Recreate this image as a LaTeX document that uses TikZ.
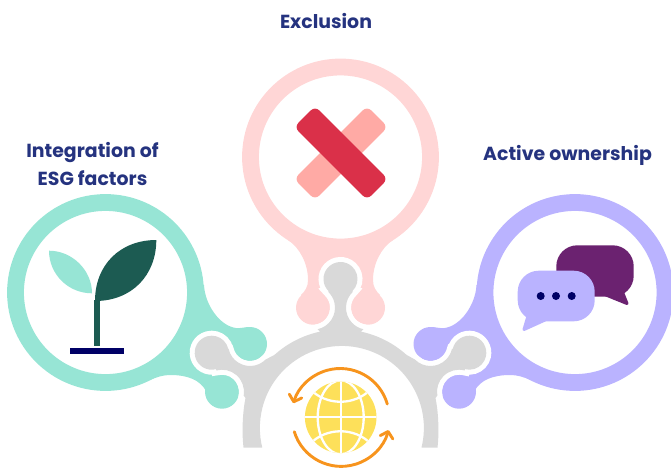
\documentclass[tikz,border=0pt]{standalone}
\usepackage{fontspec}
\setmainfont{Poppins}
\usetikzlibrary{calc}
\usetikzlibrary{arrows.meta}
\definecolor{tealblob}{HTML}{97E5D5}
\definecolor{pinkblob}{HTML}{FFD6D6}
\definecolor{purpleblob}{HTML}{BAB3FF}
\definecolor{greyblob}{HTML}{D9D9D9}
\definecolor{titleblue}{HTML}{25337F}
\definecolor{leafgreen}{HTML}{1C5B52}
\definecolor{navymark}{HTML}{000066}
\definecolor{crossdark}{HTML}{DA3049}
\definecolor{crosslight}{HTML}{FFAAA5}
\definecolor{bubbledark}{HTML}{6B2270}
\definecolor{globeyellow}{HTML}{FDE05A}
\definecolor{turnorange}{HTML}{F7941D}
\tikzstyle{ring}=[circle,fill=white,line width=16.8pt,minimum size=180pt,inner sep=0pt]
\tikzstyle{lobe}=[circle,minimum size=34pt,inner sep=0pt]
\tikzstyle{title}=[font=\bfseries\fontsize{18.9}{28}\selectfont,text=titleblue,align=center,inner sep=0pt]
\tikzstyle{crossbar}=[rectangle,rounded corners=6pt,minimum width=103pt,minimum height=29.5pt,inner sep=0pt]
\tikzstyle{bubble}=[rectangle,rounded corners=21pt,inner sep=0pt]
\tikzstyle{dot}=[circle,fill=navymark,minimum size=8pt,inner sep=0pt]
\tikzstyle{turn} = [draw=turnorange,line width=2.9pt,line cap=round,-{Straight Barb[round,length=6pt,width=13pt]}]
\tikzstyle{globeline} = [draw=white,line width=2.3pt]

\begin{document}
\begin{tikzpicture}[x=1pt,y=-1pt]
    \useasboundingbox (0,0) rectangle (671,469);

    % lobes
    \foreach \pos/\name/\col in {{(250,344)/tealA/tealblob}, {(222,391.7)/tealB/tealblob}, {(313,307.7)/pinkA/pinkblob}, {(368,307.7)/pinkB/pinkblob}, {(430.5,344)/purpleA/purpleblob}, {(459,391.7)/purpleB/purpleblob}}
        \node[lobe,fill=\col] (\name) at \pos {};

    % necks
    \fill[tealblob] (204,285) .. controls (205,305) and (220,326) .. (236,328) .. controls (241,328.5) and (245,327) .. (250,327) -- (tealA.center) -- (tealB.center) -- (206,391) .. controls (200,380) and (188,375) .. (170,375) .. controls (163,375) and (157,377) .. (150,380) -- (105.5,292.5) -- cycle;
    \fill[purpleblob] (476.5,285) .. controls (475.5,305) and (460.5,326) .. (444.5,328) .. controls (439.5,328.5) and (435.5,327) .. (430.5,327) -- (purpleA.center) -- (purpleB.center) -- (474.5,391) .. controls (480.5,380) and (492.5,375) .. (510.5,375) .. controls (517.5,375) and (523.5,377) .. (530.5,380) -- (575,292.5) -- cycle;
    \fill[pinkblob] (288,240) .. controls (300,248) and (308,264) .. (308,280) .. controls (308,287) and (305,291) .. (301,295) -- (pinkA.center) -- (pinkB.center) -- (380,295) .. controls (376,291) and (373,287) .. (373,280) .. controls (373,264) and (381,248) .. (393,240) -- (340.5,157) -- cycle;

    % rings
    \foreach \pos/\name/\col in {{(105.5,292.5)/integration/tealblob}, {(340.5,157)/exclusion/pinkblob}, {(575,292.5)/ownership/purpleblob}}
        \node[ring,draw=\col] (\name) at \pos {};

    % grey arch
    \coordinate (hub) at (340.5,428);
    \coordinate (armL) at (211.7,352.7);
    \coordinate (armT) at (340.5,279);
    \coordinate (armR) at (469.3,352.7);
    \path[fill=greyblob,preaction={draw=white,line width=10pt}]
        (243.5,447.5) .. controls (241.5,430) and (243,410) .. (245.5,398)
        -- ($(tealB)+(10:22)$) arc[start angle=10,end angle=-105,radius=22]
        -- ($(armL)+(75:17)$) arc[start angle=75,end angle=347,radius=17]
        -- ($(tealA)+(167:22)$) arc[start angle=167,end angle=45,radius=22]
        -- ($(hub)+(228:98.5)$) arc[start angle=228,end angle=258,radius=98.5]
        -- ($(pinkA)+(78:22)$) arc[start angle=78,end angle=-47,radius=22]
        -- ($(armT)+(133:17)$) arc[start angle=133,end angle=407,radius=17]
        -- ($(pinkB)+(227:22)$) arc[start angle=227,end angle=102,radius=22]
        -- ($(hub)+(282:98.5)$) arc[start angle=282,end angle=312,radius=98.5]
        -- ($(purpleA)+(135:22)$) arc[start angle=135,end angle=13,radius=22]
        -- ($(armR)+(193:17)$) arc[start angle=193,end angle=465,radius=17]
        -- ($(purpleB)+(285:22)$) arc[start angle=285,end angle=170,radius=22]
        -- (435.5,398) .. controls (438,410) and (439.5,430) .. (437.5,447.5)
        -- (421.5,447.5) arc[start angle=13.8,end angle=-193.8,radius=82] -- cycle;

    % plant
    \fill[tealblob] (49,250.7) .. controls (72,250.7) and (92,270) .. (92,293.3) .. controls (68,293.3) and (49,274) .. (49,250.7) -- cycle;
    \fill[leafgreen] (95,301) .. controls (95,265) and (120,240) .. (156.3,240) .. controls (156.3,275) and (132,301) .. (95,301) -- cycle;
    \node[rectangle,fill=leafgreen,minimum width=5.7pt,minimum height=46pt,inner sep=0pt] (stem) at (97.2,322.8) {};
    \node[rectangle,fill=navymark,minimum width=54pt,minimum height=6pt,inner sep=0pt] (soil) at (97,351) {};

    % cross
    \node[crossbar,fill=crosslight,rotate=45] (barlight) at (341,153) {};
    \node[crossbar,fill=crossdark,rotate=-45] (bardark) at (341,153) {};

    % bubbles
    \draw[fill=bubbledark,draw=bubbledark,line width=3pt,line join=round] (606,295) -- (627,303.5) -- (622,291) -- cycle;
    \node[bubble,fill=bubbledark,minimum width=77.4pt,minimum height=51.4pt] (bubbleback) at (595,271) {};
    \draw[fill=purpleblob,draw=purpleblob,line width=3pt,line join=round] (545,320) -- (524,329.5) -- (528,316) -- cycle;
    \node[bubble,fill=purpleblob,minimum width=77pt,minimum height=50.6pt] (bubblefront) at (556.2,296) {};
    \foreach \pos/\name in {{(540.7,296)/dotA}, {(556,296)/dotB}, {(571.7,296)/dotC}}
        \node[dot] (\name) at \pos {};

    % globe
    \node[circle,fill=globeyellow,minimum size=71.6pt,inner sep=0pt] (globe) at (340.7,417.3) {};
    \begin{scope}
        \clip (globe.center) circle[radius=35.8];
        \path[globeline] (340.7,380) -- (340.7,455);
        \path[globeline] (303,417.3) -- (378,417.3);
        \path[globeline] (globe.center) circle[x radius=23,y radius=37];
        \path[globeline] (310,389) .. controls (326,406) and (355,406) .. (371,389);
        \path[globeline] (310,444) .. controls (326,427) and (355,427) .. (371,444);
    \end{scope}

    % turning arrows
    \coordinate (turnA) at (387.3,404);
    \coordinate (turnB) at (294.3,431.7);
    \draw[turn] (turnA) arc[start angle=-16,end angle=-163,radius=49];
    \draw[turn] (turnB) arc[start angle=163,end angle=15,radius=49];

    % titles
    \node[title] (excl) at (326,21) {Exclusion};
    \node[title] (integ) at (92.5,164) {Integration of\\ESG factors};
    \node[title] (owner) at (567.5,155) {Active ownership};
\end{tikzpicture}
\end{document}
